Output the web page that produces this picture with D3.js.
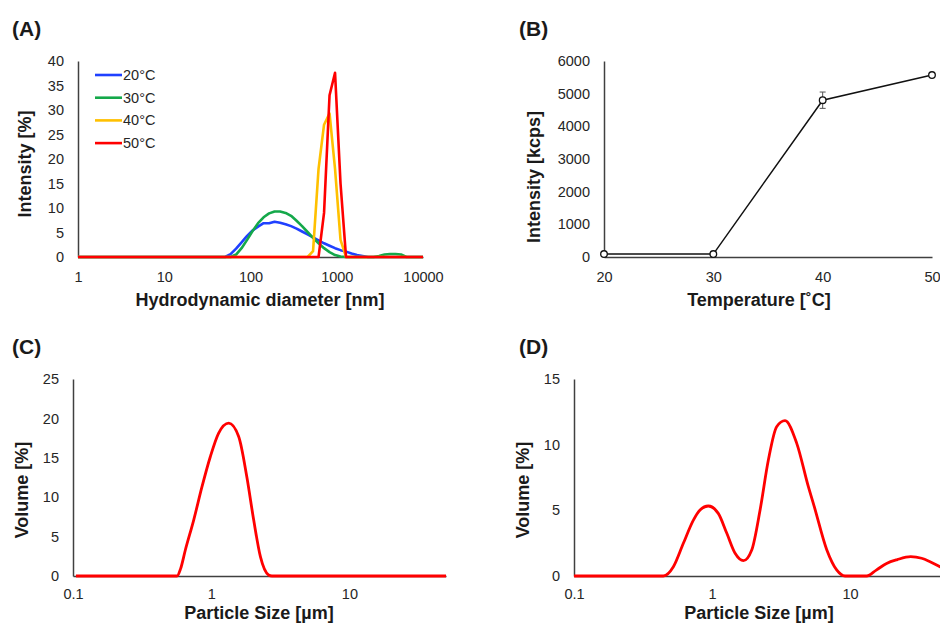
<!DOCTYPE html>
<html>
<head>
<meta charset="utf-8">
<script src="https://cdn.jsdelivr.net/npm/d3@7"></script>
<style>
  body { margin: 0; background: #fff; }
  svg { display: block; font-family: "Liberation Sans", Arial, sans-serif; }
  .tick text { fill: #262626; font-size: 14.5px; }
  .domain { stroke: #404040; stroke-width: 1.5px; }
  .title { font-weight: bold; font-size: 18px; fill: #1a1a1a; }
  .panel { font-weight: bold; font-size: 21px; fill: #1a1a1a; }
  .legend { font-size: 14.5px; fill: #262626; }
</style>
</head>
<body>
<svg id="fig" width="940" height="625"></svg>
<script>
// (A) DLS size distributions, intensity [%] per size bin [nm]
var sizesA = [1, 43.82, 50.75, 58.77, 68.06, 78.82, 91.28, 105.7, 122.4, 141.8, 164.2, 190.1, 220.2, 255.0,
              295.3, 342.0, 396.1, 458.7, 531.2, 615.1, 712.4, 825.0, 955.4, 1106, 1281, 1484, 1718, 1990,
              2305, 2669, 3091, 3580, 4145, 4801, 5560, 6439, 7456, 10000];
var int20 = [0, 0, 0, 0.6, 1.7, 3.0, 4.3, 5.4, 6.2, 6.9, 6.9, 7.2, 7.0, 6.7, 6.3, 5.8, 5.2, 4.6, 4.0,
             3.4, 2.8, 2.3, 1.8, 1.4, 1.1, 0.7, 0.4, 0.2, 0, 0, 0, 0, 0, 0, 0, 0, 0, 0];
var int30 = [0, 0, 0, 0, 0.5, 1.8, 3.5, 5.3, 6.9, 8.1, 8.9, 9.3, 9.3, 9.0, 8.4, 7.4, 6.3, 5.1, 3.9,
             2.8, 1.8, 1.0, 0.4, 0.1, 0, 0, 0, 0, 0, 0, 0.2, 0.5, 0.6, 0.6, 0.5, 0, 0, 0];
var int40 = [0, 0, 0, 0, 0, 0, 0, 0, 0, 0, 0, 0, 0, 0, 0, 0, 0, 0, 1.2,
             18, 27, 29.3, 18, 3.5, 0, 0, 0, 0, 0, 0, 0, 0, 0, 0, 0, 0, 0, 0];
var int50 = [0, 0, 0, 0, 0, 0, 0, 0, 0, 0, 0, 0, 0, 0, 0, 0, 0, 0, 0,
             0, 9, 33, 37.6, 15, 0, 0, 0, 0, 0, 0, 0, 0, 0, 0, 0, 0, 0, 0];
var seriesA = ['20°C', '30°C', '40°C', '50°C'];
var colorsA = ['#1f40ff', '#14a84a', '#ffc000', '#ff0000'];

// (B) scattered light intensity vs temperature
var tempB = [20, 30, 40, 50];
var kcpsB = [90, 90, 4800, 5570];
var errB = [15, 15, 250, 0];

// (C) and (D) laser diffraction volume distributions
var sizesC = [0.105, 0.566, 0.6, 0.65, 0.747, 0.857, 0.984, 1.13, 1.34, 1.58, 1.81, 2.03, 2.27,
              2.6, 2.75, 50];
var volC = [0, 0, 0.9, 3.3, 7.1, 11.3, 15.1, 18.1, 19.4, 17.7, 12.6, 7.1, 2.45,
            0.13, 0, 0];
var sizesD = [0.1, 0.444, 0.525, 0.62, 0.733, 0.819, 0.94, 1.11, 1.28, 1.47, 1.69, 1.94, 2.23,
              2.56, 2.94, 3.38, 4.11, 4.99, 5.5, 6.78, 8.0, 9.2, 13.2, 15.5, 18.4,
              22, 27.5, 33, 38, 44.9, 50];
var volD = [0, 0, 0.71, 2.49, 4.26, 5.03, 5.33, 4.77, 3.25, 1.73, 1.17, 1.98, 5.03,
            8.83, 11.37, 11.83, 10.1, 6.8, 5.3, 2.0, 0.46, 0, 0, 0.45, 0.96,
            1.25, 1.47, 1.35, 1.09, 0.71, 0.45];
var ticksPSD = [0.1, 1, 10];

var svg = d3.select('#fig');

function yAxis(y, x0, ticks) {
    svg.append('g')
      .attr('transform', `translate(${x0},0)`)
      .call(d3.axisLeft(y).tickValues(ticks).tickSize(0).tickPadding(14).tickFormat(d3.format('d')));
}

function xAxis(x, y0, ticks, pad) {
    svg.append('g')
      .attr('transform', `translate(0,${y0})`)
      .call(d3.axisBottom(x).tickValues(ticks).tickSize(0).tickPadding(pad).tickFormat(d => d));
}

function titles(panel, px, py, xt, xtx, xty, yt, ytx, yty) {
    svg.append('text').attr('class', 'panel').attr('x', px).attr('y', py).text(panel);
    svg.append('text').attr('class', 'title').attr('text-anchor', 'middle')
      .attr('x', xtx).attr('y', xty).text(xt);
    svg.append('text').attr('class', 'title').attr('text-anchor', 'middle')
      .attr('transform', `translate(${ytx},${yty}) rotate(-90)`).text(yt);
}

// ---------- (A) ----------
var xA = d3.scaleLog().domain([1, 10000]).range([78, 423]);
var yA = d3.scaleLinear().domain([0, 40]).range([257, 61]);
xAxis(xA, 257, [1, 10, 100, 1000, 10000], 15);
yAxis(yA, 78, d3.range(0, 41, 5));

var lineA = d3.line().x((d, i) => xA(sizesA[i])).y(d => yA(d));
[int20, int30, int40, int50].forEach(function (vals, k) {
    svg.append('path')
      .datum(vals)
      .attr('fill', 'none')
      .attr('stroke', colorsA[k])
      .attr('stroke-width', 2.6)
      .attr('stroke-linejoin', 'round')
      .attr('d', lineA);
});

var leg = svg.append('g').attr('class', 'legend');
seriesA.forEach(function (s, k) {
    var ly = 75 + k * 22.7;
    leg.append('line').attr('x1', 95).attr('x2', 122).attr('y1', ly).attr('y2', ly)
      .attr('stroke', colorsA[k]).attr('stroke-width', 2.6);
    leg.append('text').attr('x', 123).attr('y', ly).attr('dy', '0.35em').text(s);
});
titles('(A)', 12, 36, 'Hydrodynamic diameter [nm]', 260, 306, 'Intensity [%]', 31, 164);

// ---------- (B) ----------
var xB = d3.scaleLinear().domain([20, 50]).range([604, 932]);
var yB = d3.scaleLinear().domain([0, 6000]).range([257, 61]);
xAxis(xB, 257, tempB, 15);
yAxis(yB, 604, d3.range(0, 6001, 1000));

svg.append('path')
  .datum(kcpsB)
  .attr('fill', 'none')
  .attr('stroke', '#111')
  .attr('stroke-width', 1.5)
  .attr('d', d3.line().x((d, i) => xB(tempB[i])).y(d => yB(d)));

var eb = svg.append('g').attr('stroke', '#555').attr('stroke-width', 1);
tempB.forEach(function (t, i) {
    if (!errB[i]) return;
    var cx = xB(t), lo = yB(kcpsB[i] - errB[i]), hi = yB(kcpsB[i] + errB[i]);
    eb.append('line').attr('x1', cx).attr('x2', cx).attr('y1', lo).attr('y2', hi);
    eb.append('line').attr('x1', cx - 3).attr('x2', cx + 3).attr('y1', lo).attr('y2', lo);
    eb.append('line').attr('x1', cx - 3).attr('x2', cx + 3).attr('y1', hi).attr('y2', hi);
});

svg.append('g').selectAll('circle')
  .data(kcpsB)
  .join('circle')
  .attr('cx', (d, i) => xB(tempB[i]))
  .attr('cy', d => yB(d))
  .attr('r', 3.3)
  .attr('fill', '#fff')
  .attr('stroke', '#111')
  .attr('stroke-width', 1.3);
titles('(B)', 519, 36, 'Temperature [˚C]', 759, 306, 'Intensity [kcps]', 539.5, 177);

// ---------- (C) ----------
var smooth = d3.curveMonotoneX;
var xC = d3.scaleLog().domain([0.1, 50]).range([73, 446]);
var yC = d3.scaleLinear().domain([0, 25]).range([576, 379]);
xAxis(xC, 576, ticksPSD, 13);
yAxis(yC, 73, d3.range(0, 26, 5));
svg.append('path')
  .datum(volC)
  .attr('fill', 'none')
  .attr('stroke', '#ff0000')
  .attr('stroke-width', 2.8)
  .attr('d', d3.line().curve(smooth).x((d, i) => xC(sizesC[i])).y(d => yC(d)));
titles('(C)', 12, 354, 'Particle Size [µm]', 259, 619, 'Volume [%]', 27.5, 490);

// ---------- (D) ----------
var xD = d3.scaleLog().domain([0.1, 50]).range([574, 946.5]);
var yD = d3.scaleLinear().domain([0, 15]).range([576, 379]);
xAxis(xD, 576, ticksPSD, 13);
yAxis(yD, 574, d3.range(0, 16, 5));
svg.append('path')
  .datum(volD)
  .attr('fill', 'none')
  .attr('stroke', '#ff0000')
  .attr('stroke-width', 2.8)
  .attr('d', d3.line().curve(smooth).x((d, i) => xD(sizesD[i])).y(d => yD(d)));
titles('(D)', 519, 354, 'Particle Size [µm]', 759, 619, 'Volume [%]', 528.5, 490);
</script>
</body>
</html>
